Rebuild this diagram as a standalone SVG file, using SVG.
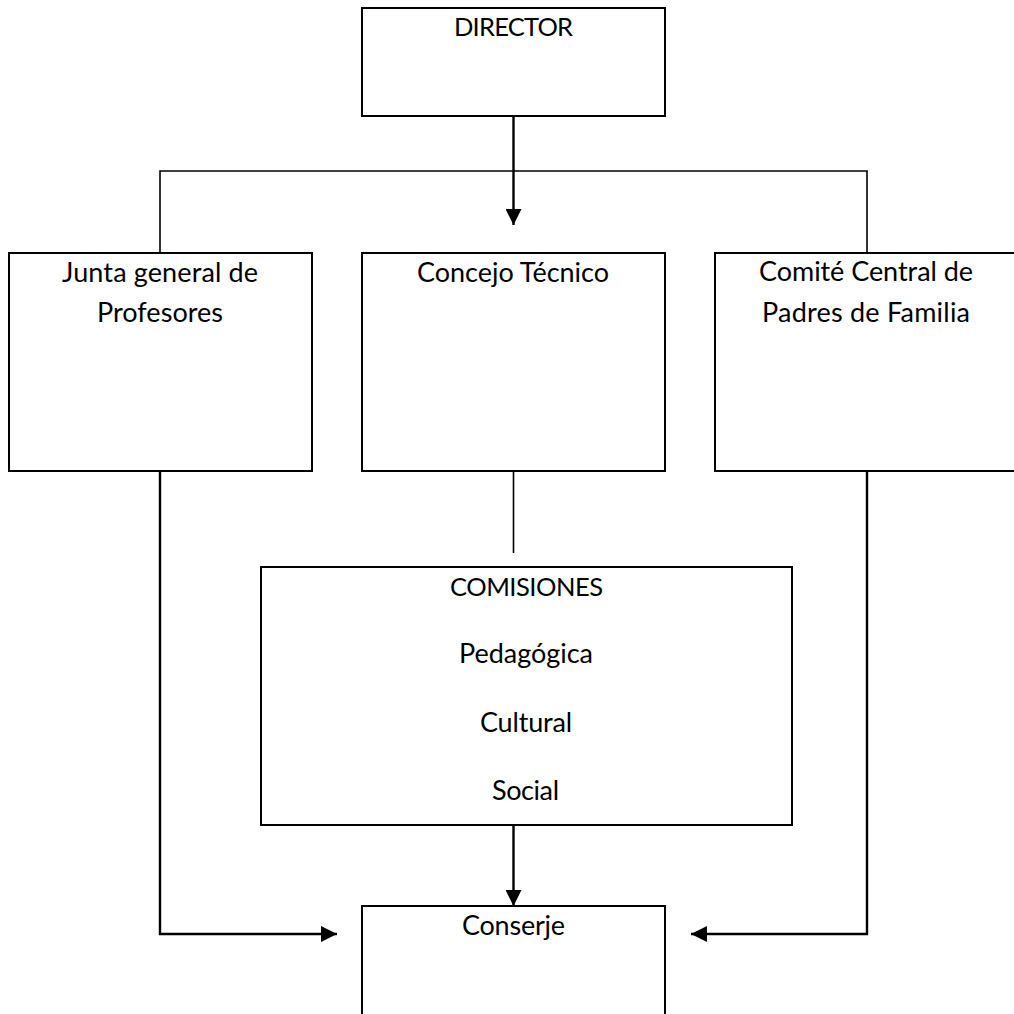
<svg xmlns="http://www.w3.org/2000/svg" width="1014" height="1014" viewBox="0 0 1014 1014">
  <style>
    .box { fill: #ffffff; stroke: #000000; stroke-width: 2; }
    .lbl { font-family: "Lato", "Open Sans", "Liberation Sans", sans-serif; font-size: 27px; fill: #000000; text-anchor: middle; }
    .caps { font-size: 25.5px; }
    .conn { fill: none; stroke: #000000; stroke-width: 1.6; }
    .arr { fill: none; stroke: #000000; stroke-width: 2.4; marker-end: url(#head); }
  </style>
  <defs>
    <marker id="head" markerUnits="userSpaceOnUse" markerWidth="16" markerHeight="16" refX="16" refY="8" orient="auto">
      <path d="M0,0 L16,8 L0,16 z" fill="#000000"/>
    </marker>
  </defs>
  <rect width="1014" height="1014" fill="#ffffff"/>

  <g id="connectors">
    <polyline class="conn" points="160,253 160,171 867,171 867,253"/>
    <line class="arr" x1="513.5" y1="116" x2="513.5" y2="225"/>
    <line class="conn" x1="513.5" y1="471" x2="513.5" y2="553"/>
    <line class="arr" x1="513.5" y1="825" x2="513.5" y2="906"/>
    <polyline class="arr" points="160,471 160,934 337,934"/>
    <polyline class="arr" points="867,471 867,934 691,934"/>
  </g>

  <g id="director">
    <rect class="box" x="362" y="8" width="303" height="108"/>
    <text class="lbl caps" x="513.5" y="36" textLength="119">DIRECTOR</text>
  </g>

  <g id="junta">
    <rect class="box" x="9" y="253" width="303" height="218"/>
    <text class="lbl" x="160" y="282" textLength="196">Junta general de</text>
    <text class="lbl" x="160" y="322" textLength="126">Profesores</text>
  </g>

  <g id="concejo">
    <rect class="box" x="362" y="253" width="303" height="218"/>
    <text class="lbl" x="513" y="282" textLength="192">Concejo Técnico</text>
  </g>

  <g id="comite">
    <rect class="box" x="715" y="253" width="310" height="218"/>
    <text class="lbl" x="866" y="281" textLength="214">Comité Central de</text>
    <text class="lbl" x="866" y="322" textLength="208">Padres de Familia</text>
  </g>

  <g id="comisiones">
    <rect class="box" x="261" y="567" width="531" height="258"/>
    <text class="lbl caps" x="526.5" y="596" textLength="153">COMISIONES</text>
    <text class="lbl" x="526" y="663" textLength="134">Pedagógica</text>
    <text class="lbl" x="526" y="732" textLength="92">Cultural</text>
    <text class="lbl" x="525.5" y="800" textLength="67">Social</text>
  </g>

  <g id="conserje">
    <rect class="box" x="362" y="906" width="303" height="120"/>
    <text class="lbl" x="513.5" y="935" textLength="103">Conserje</text>
  </g>
</svg>
